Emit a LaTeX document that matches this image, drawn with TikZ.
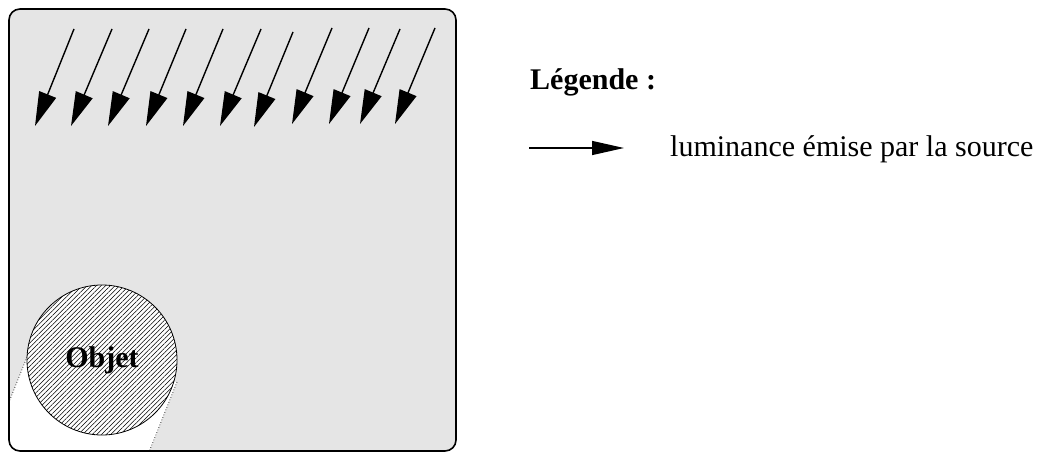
\documentclass[tikz,border=0pt]{standalone}
\usepackage{fontspec}
\setmainfont{Liberation Serif}
\usetikzlibrary{arrows.meta,patterns.meta}
\definecolor{boxgray}{HTML}{E5E5E5}
\tikzset{
  ray/.style={line width=1.4pt,-{Triangle[length=34pt,width=18pt]}},
  legray/.style={line width=1.4pt,-{Triangle[length=32pt,width=14pt]}},
  frame/.style={line width=1.6pt,rounded corners=11pt},
  shadowedge/.style={dotted,line width=0.7pt},
  lbl/.style={font=\fontsize{30}{36}\selectfont,inner sep=0pt},
  objstyle/.style={circle,draw,line width=0.8pt,minimum size=150pt,inner sep=0pt,
    preaction={fill=white},
    pattern={Lines[angle=45,distance=3.3pt,line width=0.5pt]},
    font=\fontsize{30}{36}\selectfont\bfseries}
}
\begin{document}
\begin{tikzpicture}[x=1pt,y=-1pt]
\useasboundingbox (0,0) rectangle (1045,452);
% box
\fill[boxgray,rounded corners=11pt] (9,9) rectangle (456,451);
% shadow
\begin{scope}
  \clip[rounded corners=11pt] (9,9) rectangle (456,451);
  \coordinate (shL) at (27,357);
  \coordinate (shR) at (177,382);
  \coordinate (shLe) at (-21,477);
  \coordinate (shRe) at (137,482);
  \fill[white] (shL) -- (shLe) -- (shRe) -- (shR) -- cycle;
  \draw[shadowedge] (shL) -- (shLe);
  \draw[shadowedge] (shR) -- (shRe);
\end{scope}
\draw[frame] (9,9) rectangle (456,451);
% object
\node[objstyle] (obj) at (102,360) {Objet};
% rays
\foreach \i/\sx/\sy/\tx/\ty in {1/74/29/35/126, 2/112/29/71/126, 3/149/29/108/126,
  4/186/29/146/126, 5/223/29/183/126, 6/261/29/220/126, 7/293/32/254/127,
  8/332/28/292/124, 9/369/28/329/124, 10/400/29/360/124, 11/435/28/395/124}{
  \coordinate (s\i) at (\sx,\sy);
  \coordinate (t\i) at (\tx,\ty);
  \draw[ray] (s\i) -- (t\i);
}
% legend
\node[lbl,anchor=base west,font=\fontsize{30}{36}\selectfont\bfseries] (legtitle) at (530,90) {Légende :};
\coordinate (la) at (529,148);
\coordinate (lb) at (624,148);
\draw[legray] (la) -- (lb);
\node[lbl,anchor=base west] (legtext) at (670,157) {luminance émise par la source};
\end{tikzpicture}
\end{document}
